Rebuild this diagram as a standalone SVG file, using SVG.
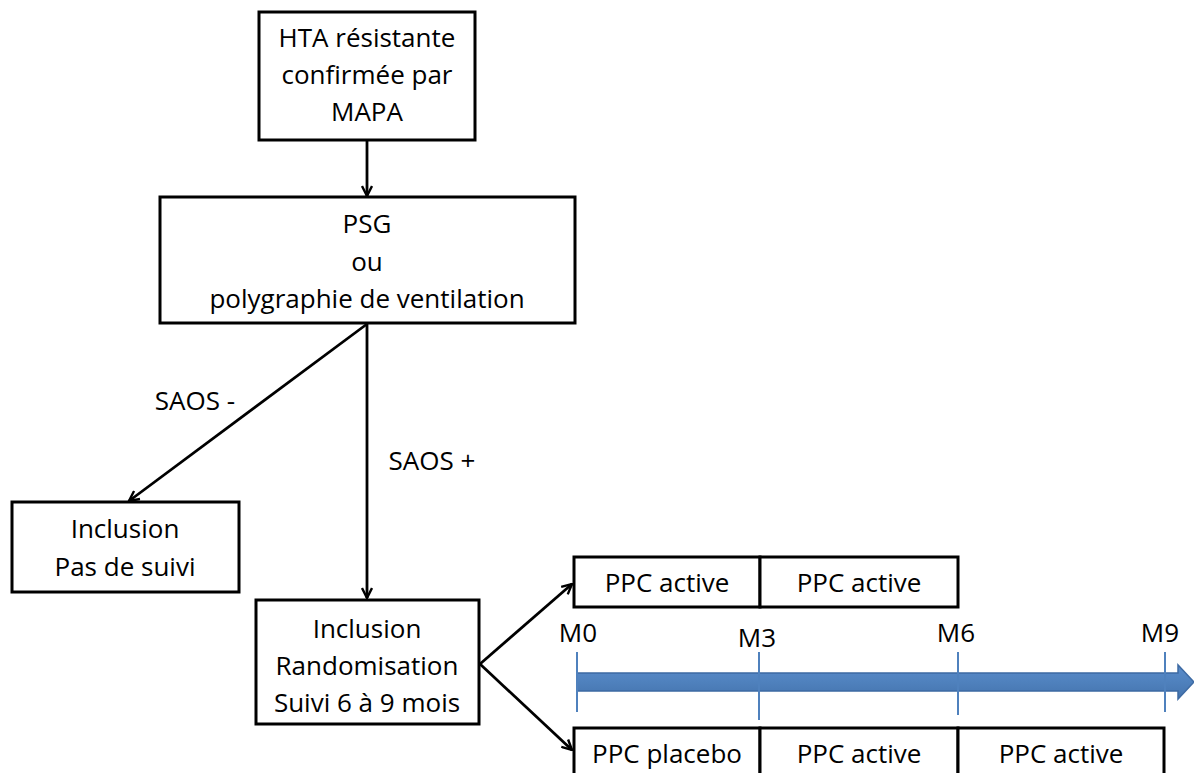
<svg xmlns="http://www.w3.org/2000/svg" width="1194" height="773" viewBox="0 0 1194 773">
<style>
.box{fill:#fff;stroke:#000;stroke-width:3}
.t{font-family:"Open Sans","Liberation Sans",sans-serif;font-size:26px;fill:#000;text-anchor:middle}
.c{fill:none;stroke:#000;stroke-width:2.8}
.tick{stroke:#4f81bd;stroke-width:2}
</style>
<defs>
<marker id="ah" viewBox="0 0 12 12" refX="11" refY="6" markerWidth="12" markerHeight="12" markerUnits="userSpaceOnUse" orient="auto">
<path d="M1,1 L11,6 L1,11" fill="none" stroke="#000" stroke-width="2.4"/>
</marker>
<linearGradient id="bg" x1="0" y1="0" x2="0" y2="1">
<stop offset="0" stop-color="#5a8ccb"/>
<stop offset="0.5" stop-color="#4f81bd"/>
<stop offset="1" stop-color="#4473ad"/>
</linearGradient>
</defs>
<rect width="1194" height="773" fill="#fff"/>
<g id="connectors">
<line class="c" x1="367" y1="140" x2="367" y2="196" marker-end="url(#ah)"/>
<line class="c" x1="367" y1="324" x2="129" y2="501" marker-end="url(#ah)"/>
<line class="c" x1="367" y1="324" x2="367" y2="598" marker-end="url(#ah)"/>
<line class="c" x1="480" y1="664" x2="572" y2="584" marker-end="url(#ah)"/>
<line class="c" x1="480" y1="664" x2="572" y2="750" marker-end="url(#ah)"/>
<text class="t" x="195" y="410">SAOS -</text>
<text class="t" x="432" y="470">SAOS +</text>
</g>
<g id="n1">
<rect class="box" x="259" y="12" width="216" height="128"/>
<text class="t" x="367" y="47">HTA résistante</text>
<text class="t" x="367" y="84">confirmée par</text>
<text class="t" x="367" y="121">MAPA</text>
</g>
<g id="n2">
<rect class="box" x="160" y="197" width="415" height="126"/>
<text class="t" x="367" y="233">PSG</text>
<text class="t" x="367" y="271">ou</text>
<text class="t" x="367" y="308">polygraphie de ventilation</text>
</g>
<g id="n3">
<rect class="box" x="12" y="502" width="227" height="90"/>
<text class="t" x="125" y="538">Inclusion</text>
<text class="t" x="125" y="576">Pas de suivi</text>
</g>
<g id="n4">
<rect class="box" x="256" y="600" width="223" height="124"/>
<text class="t" x="367" y="638">Inclusion</text>
<text class="t" x="367" y="675">Randomisation</text>
<text class="t" x="367" y="712">Suivi 6 à 9 mois</text>
</g>
<g id="timeline">
<path d="M577,673 L1178,673 L1178,665 L1194,682 L1178,699 L1178,691 L577,691 Z" fill="url(#bg)" stroke="#3d6aa3" stroke-width="1.5"/>
<line class="tick" x1="577" y1="652" x2="577" y2="712"/>
<line class="tick" x1="759" y1="652" x2="759" y2="720"/>
<line class="tick" x1="958" y1="652" x2="958" y2="715"/>
<line class="tick" x1="1165" y1="652" x2="1165" y2="712"/>
<text class="t" x="578" y="642">M0</text>
<text class="t" x="757" y="647">M3</text>
<text class="t" x="956" y="642">M6</text>
<text class="t" x="1160" y="642">M9</text>
</g>
<g id="n5">
<rect class="box" x="574" y="557" width="186" height="50"/>
<rect class="box" x="760" y="557" width="198" height="50"/>
<text class="t" x="667" y="592">PPC active</text>
<text class="t" x="859" y="592">PPC active</text>
</g>
<g id="n6">
<rect class="box" x="574" y="728" width="186" height="60"/>
<rect class="box" x="760" y="728" width="198" height="60"/>
<rect class="box" x="958" y="728" width="206" height="60"/>
<text class="t" x="667" y="763">PPC placebo</text>
<text class="t" x="859" y="763">PPC active</text>
<text class="t" x="1061" y="763">PPC active</text>
</g>
</svg>
